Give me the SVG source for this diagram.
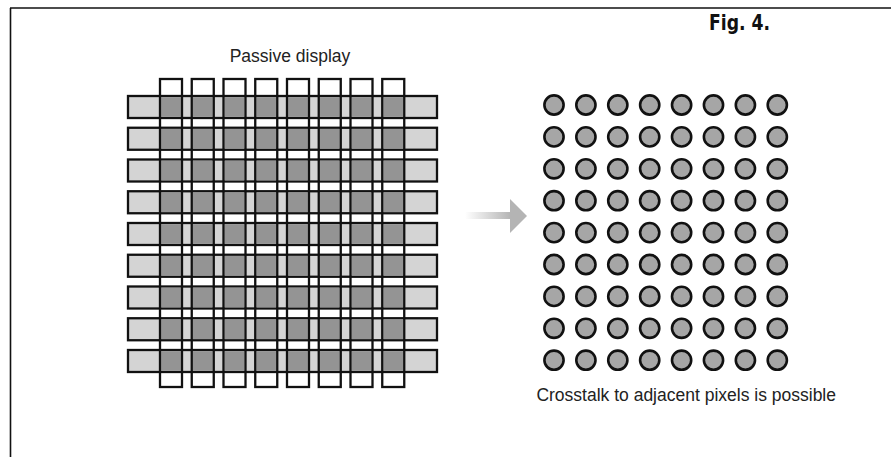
<svg xmlns="http://www.w3.org/2000/svg" width="891" height="457" viewBox="0 0 891 457">
<style>
.frame{stroke:#111;stroke-width:1.6;fill:none}
.hs{fill:#d4d4d4;stroke:#111;stroke-width:2.3}
.ix{fill:#949494}
.vs{fill:none;stroke:#111;stroke-width:2.3}
.px{fill:#a6a6a6;stroke:#111;stroke-width:2.6}
.lbl{font-family:"Liberation Sans",Arial,sans-serif;font-size:17.5px;fill:#222}
.fig{font-family:"DejaVu Sans Condensed","DejaVu Sans","Liberation Sans",sans-serif;font-weight:bold;font-size:21px;fill:#111}
</style>
<defs>
<linearGradient id="shaft" x1="0" y1="0" x2="1" y2="0">
<stop offset="0" stop-color="#ffffff"/>
<stop offset="1" stop-color="#b4b4b4"/>
</linearGradient>
<g id="hrow">
<rect class="hs" x="128" y="0" width="309" height="22"/>
<rect class="ix" x="161.15" y="1.15" width="19.7" height="19.7"/>
<rect class="ix" x="192.9" y="1.15" width="19.7" height="19.7"/>
<rect class="ix" x="224.65" y="1.15" width="19.7" height="19.7"/>
<rect class="ix" x="256.4" y="1.15" width="19.7" height="19.7"/>
<rect class="ix" x="288.15" y="1.15" width="19.7" height="19.7"/>
<rect class="ix" x="319.9" y="1.15" width="19.7" height="19.7"/>
<rect class="ix" x="351.65" y="1.15" width="19.7" height="19.7"/>
<rect class="ix" x="383.4" y="1.15" width="19.7" height="19.7"/>
</g>
<g id="crow">
<circle class="px" cx="554" cy="0" r="9.6"/>
<circle class="px" cx="585.9" cy="0" r="9.6"/>
<circle class="px" cx="617.8" cy="0" r="9.6"/>
<circle class="px" cx="649.7" cy="0" r="9.6"/>
<circle class="px" cx="681.6" cy="0" r="9.6"/>
<circle class="px" cx="713.5" cy="0" r="9.6"/>
<circle class="px" cx="745.4" cy="0" r="9.6"/>
<circle class="px" cx="777.3" cy="0" r="9.6"/>
</g>
</defs>

<g id="frame">
<line class="frame" x1="10" y1="8" x2="891" y2="8"/>
<line class="frame" x1="10.5" y1="8" x2="10.5" y2="457"/>
<text class="fig" x="709" y="30" textLength="61" lengthAdjust="spacingAndGlyphs">Fig. 4.</text>
</g>

<g id="passive-display">
<text class="lbl" x="290" y="62" text-anchor="middle">Passive display</text>
<use href="#hrow" y="96"/>
<use href="#hrow" y="127.75"/>
<use href="#hrow" y="159.5"/>
<use href="#hrow" y="191.25"/>
<use href="#hrow" y="223"/>
<use href="#hrow" y="254.75"/>
<use href="#hrow" y="286.5"/>
<use href="#hrow" y="318.25"/>
<use href="#hrow" y="350"/>
<rect class="vs" x="160" y="79" width="22" height="308"/>
<rect class="vs" x="191.75" y="79" width="22" height="308"/>
<rect class="vs" x="223.5" y="79" width="22" height="308"/>
<rect class="vs" x="255.25" y="79" width="22" height="308"/>
<rect class="vs" x="287" y="79" width="22" height="308"/>
<rect class="vs" x="318.75" y="79" width="22" height="308"/>
<rect class="vs" x="350.5" y="79" width="22" height="308"/>
<rect class="vs" x="382.25" y="79" width="22" height="308"/>
</g>

<g id="connectors">
<g id="arrow">
<rect x="465" y="212" width="46" height="7" fill="url(#shaft)"/>
<polygon points="510,199 527,216 510,233" fill="#b4b4b4"/>
</g>
</g>

<g id="pixels">
<use href="#crow" y="105"/>
<use href="#crow" y="136.9"/>
<use href="#crow" y="168.8"/>
<use href="#crow" y="200.7"/>
<use href="#crow" y="232.6"/>
<use href="#crow" y="264.5"/>
<use href="#crow" y="296.4"/>
<use href="#crow" y="328.3"/>
<use href="#crow" y="360.2"/>
<text class="lbl" x="836" y="401" text-anchor="end">Crosstalk to adjacent pixels is possible</text>
</g>
</svg>
